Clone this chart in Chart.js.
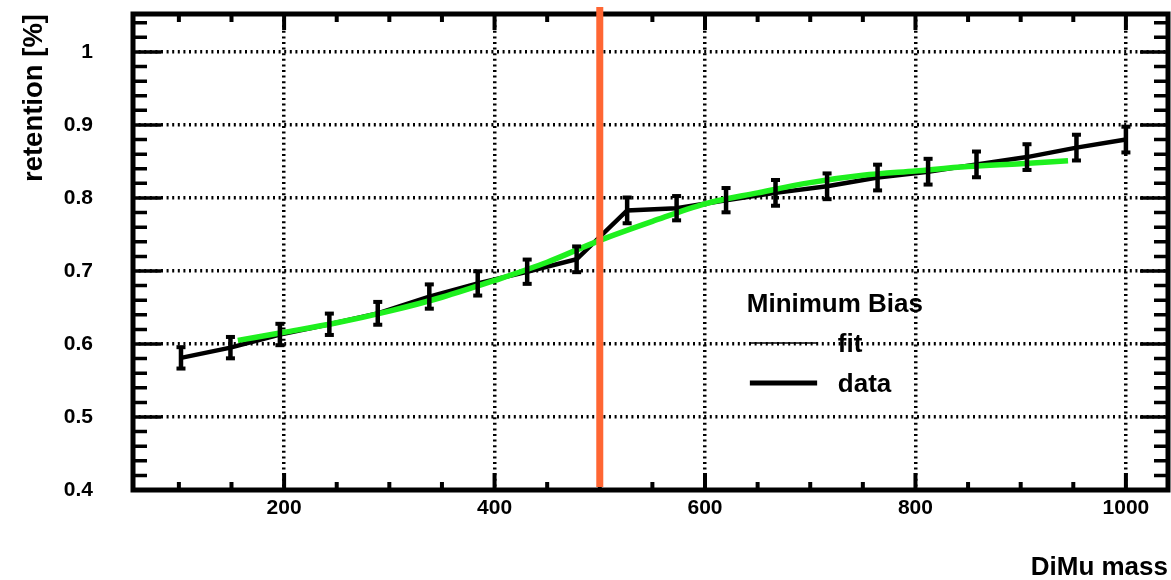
<!DOCTYPE html>
<html>
<head>
<meta charset="utf-8">
<title>retention vs DiMu mass</title>
<script src="https://cdn.jsdelivr.net/npm/chart.js@4.4.1/dist/chart.umd.min.js"></script>
<style>
  html, body { margin: 0; padding: 0; background: #fff; }
  #wrap { width: 1171px; height: 580px; }
</style>
</head>
<body>
<div id="wrap"><canvas id="retentionChart" width="1171" height="580"></canvas></div>
<script>
// values
const massBins = [102, 149, 196, 243, 289, 338, 384, 431, 478, 526, 573, 620, 667, 716, 764, 812, 858, 906, 953, 1000];
const retention = [0.581, 0.595, 0.613, 0.627, 0.642, 0.665, 0.683, 0.699, 0.716, 0.783,
                   0.786, 0.797, 0.807, 0.816, 0.828, 0.836, 0.846, 0.856, 0.869, 0.880];
const retentionErr = [0.016, 0.016, 0.016, 0.016, 0.017, 0.018, 0.018, 0.018, 0.019, 0.019,
                      0.018, 0.018, 0.019, 0.019, 0.019, 0.019, 0.019, 0.019, 0.019, 0.019];

const fitMass = [156, 200, 250, 300, 350, 400, 450, 500, 550, 600, 650, 700, 750, 800, 850, 900, 945];
const fitRetention = [0.605, 0.616, 0.629, 0.645, 0.664, 0.687, 0.712, 0.742, 0.768, 0.792,
                      0.807, 0.821, 0.831, 0.837, 0.843, 0.847, 0.851];

const xTickValues = [200, 400, 600, 800, 1000];
const yTickValues = [0.4, 0.5, 0.6, 0.7, 0.8, 0.9, 1.0];
const massCut = 500;

const legendTitle = 'Minimum Bias';
const legendLabels = ['fit', 'data'];

const FONT = '"Liberation Sans", Arial, Helvetica, sans-serif';

// ROOT-like frame, ticks, error bars, cut line and legend
const rootDecor = {
    id: 'rootDecor',
    afterDatasetsDraw(chart) {
        const { ctx, chartArea: a, scales: { x, y } } = chart;
        ctx.save();

        // error bars
        ctx.strokeStyle = '#000';
        ctx.fillStyle = '#000';
        ctx.lineWidth = 4.5;
        massBins.forEach((m, i) => {
            const px = x.getPixelForValue(m);
            const top = y.getPixelForValue(retention[i] + retentionErr[i]);
            const bot = y.getPixelForValue(retention[i] - retentionErr[i]);
            ctx.beginPath();
            ctx.moveTo(px, top);
            ctx.lineTo(px, bot);
            ctx.stroke();
            ctx.fillRect(px - 4.5, top - 1, 9, 4);
            ctx.fillRect(px - 4.5, bot - 3, 9, 4);
        });

        // frame
        ctx.lineWidth = 5;
        ctx.strokeRect(a.left, a.top, a.right - a.left, a.bottom - a.top);

        // y ticks, major every 0.1, minor every 0.02
        ctx.lineWidth = 3.5;
        for (let k = Math.ceil(y.min * 50); k <= Math.floor(y.max * 50 + 1e-6); k++) {
            const py = y.getPixelForValue(k / 50);
            const len = k % 5 === 0 ? 28 : 14;
            ctx.beginPath();
            ctx.moveTo(a.left, py); ctx.lineTo(a.left + len, py);
            ctx.moveTo(a.right, py); ctx.lineTo(a.right - len, py);
            ctx.stroke();
        }
        // x ticks, major every 200, minor every 50
        ctx.lineWidth = 4;
        for (let k = Math.ceil(x.min / 50); k <= Math.floor(x.max / 50); k++) {
            const px = x.getPixelForValue(k * 50);
            const major = k % 4 === 0;
            ctx.beginPath();
            ctx.moveTo(px, a.bottom); ctx.lineTo(px, a.bottom - (major ? 17 : 8));
            ctx.moveTo(px, a.top); ctx.lineTo(px, a.top + (major ? 16 : 8));
            ctx.stroke();
        }

        // cut line
        const cx = x.getPixelForValue(massCut);
        ctx.strokeStyle = '#ff6633';
        ctx.lineWidth = 7;
        ctx.beginPath();
        ctx.moveTo(cx, a.top - 7);
        ctx.lineTo(cx, a.bottom - 3);
        ctx.stroke();

        // legend
        const w = a.right - a.left, h = a.bottom - a.top;
        const lx = a.left + 0.593 * w;
        ctx.fillStyle = '#000';
        ctx.font = 'bold 26px ' + FONT;
        ctx.textBaseline = 'alphabetic';
        ctx.textAlign = 'left';
        ctx.fillText(legendTitle, lx, a.top + 0.625 * h);
        const rows = [0.691, 0.775];
        const widths = [1.5, 5];
        legendLabels.forEach((lab, i) => {
            const ry = a.top + rows[i] * h;
            ctx.strokeStyle = '#000';
            ctx.lineWidth = widths[i];
            ctx.beginPath();
            ctx.moveTo(a.left + 0.596 * w, ry);
            ctx.lineTo(a.left + 0.661 * w, ry);
            ctx.stroke();
            ctx.fillText(lab, a.left + 0.681 * w, ry + 9);
        });

        ctx.restore();
    }
};

const ctx = document.getElementById('retentionChart').getContext('2d');

const retentionChart = new Chart(ctx, {
    type: 'line',
    data: {
        datasets: [{
            label: 'fit',
            data: fitMass.map((m, i) => ({ x: m, y: fitRetention[i] })),
            borderColor: '#1ef01e',
            borderWidth: 5.5,
            pointRadius: 0,
            tension: 0.4,
            cubicInterpolationMode: 'monotone',
            fill: false
        }, {
            label: 'data',
            data: massBins.map((m, i) => ({ x: m, y: retention[i] })),
            borderColor: '#000',
            borderWidth: 4.5,
            pointRadius: 0,
            tension: 0,
            fill: false
        }]
    },
    options: {
        responsive: false,
        animation: false,
        events: [],
        layout: { padding: { top: 14, right: 3, left: 0, bottom: 0 } },
        plugins: {
            legend: { display: false },
            tooltip: { enabled: false }
        },
        scales: {
            x: {
                type: 'linear',
                min: 56.4,
                max: 1040,
                afterBuildTicks: (s) => { s.ticks = xTickValues.map(v => ({ value: v })); },
                afterFit: (s) => { s.height = 90; s.paddingLeft = 0; s.paddingRight = 0; },
                grid: { color: '#000', lineWidth: 3.5, drawTicks: false },
                border: { display: false, dash: [2, 3.6] },
                ticks: {
                    padding: 6,
                    color: '#000',
                    maxRotation: 0,
                    font: { family: FONT, size: 21, weight: 'bold' },
                    callback: (v) => String(v)
                },
                title: {
                    display: true,
                    text: 'DiMu mass',
                    align: 'end',
                    color: '#000',
                    padding: { top: 0, bottom: 0 },
                    font: { family: FONT, size: 26, weight: 'bold', lineHeight: 0.9 }
                }
            },
            y: {
                type: 'linear',
                min: 0.4,
                max: 1.052,
                afterBuildTicks: (s) => { s.ticks = yTickValues.map(v => ({ value: v })); },
                afterFit: (s) => { s.width = 133; s.paddingTop = 0; s.paddingBottom = 0; },
                grid: { color: '#000', lineWidth: 3.5, drawTicks: false },
                border: { display: false, dash: [2, 3.6] },
                ticks: {
                    padding: 40,
                    color: '#000',
                    font: { family: FONT, size: 21, weight: 'bold' },
                    callback: (v) => String(Number(v.toFixed(1)))
                },
                title: {
                    display: true,
                    text: 'retention [%]',
                    align: 'end',
                    color: '#000',
                    padding: { top: 22, bottom: 0 },
                    font: { family: FONT, size: 27.5, weight: 'bold', lineHeight: 0.9 }
                }
            }
        }
    },
    plugins: [rootDecor]
});
</script>
</body>
</html>
